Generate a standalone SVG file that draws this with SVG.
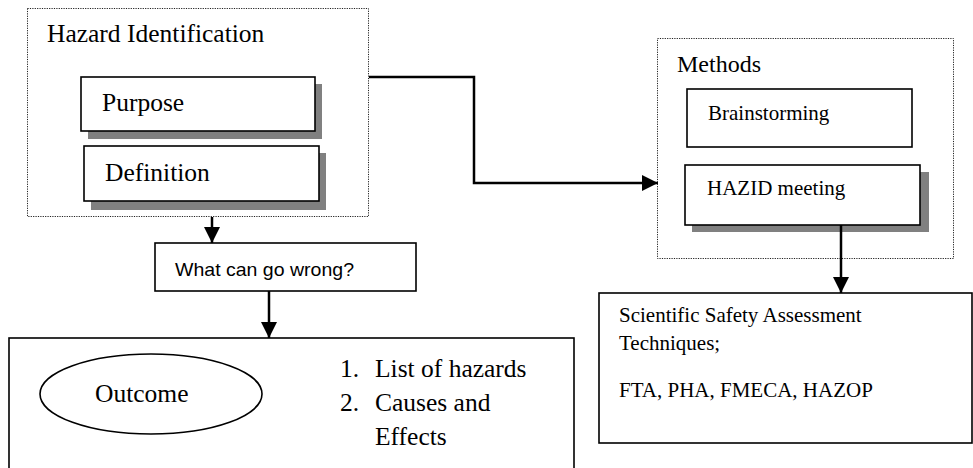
<svg xmlns="http://www.w3.org/2000/svg" width="973" height="468" viewBox="0 0 973 468">
  <style>
    .serif { font-family: "Liberation Serif", "Times New Roman", Times, serif; fill: #000; }
    .sans { font-family: "Liberation Sans", Arial, sans-serif; fill: #000; }
    .frame { fill: none; stroke: #222; stroke-width: 1; stroke-dasharray: 1.2 1.2; }
    .box { fill: #fff; stroke: #000; stroke-width: 1.6; }
    .shadow { fill: #808080; stroke: none; }
    .wire { fill: none; stroke: #000; stroke-width: 2.5; }
  </style>
  <defs>
    <marker id="head" viewBox="0 0 10 10" refX="10" refY="5" markerWidth="16" markerHeight="16" markerUnits="userSpaceOnUse" orient="auto">
      <path d="M0,0 L10,5 L0,10 Z" fill="#000"/>
    </marker>
  </defs>
  <rect width="973" height="468" fill="#fff"/>

  <!-- Hazard identification panel -->
  <g id="hazard-identification">
    <rect class="frame" x="27.5" y="8.5" width="341" height="208"/>
    <text class="serif" x="47" y="42" style="font-size:25.5px">Hazard Identification</text>
  </g>
  <g id="purpose">
    <rect class="shadow" x="88" y="84" width="234" height="55"/>
    <rect class="box" x="81" y="77" width="234" height="54"/>
    <text class="serif" x="102" y="111" style="font-size:25.5px">Purpose</text>
  </g>
  <g id="definition">
    <rect class="shadow" x="91" y="153" width="235" height="57"/>
    <rect class="box" x="84" y="146" width="235" height="55"/>
    <text class="serif" x="105" y="181" style="font-size:25.5px">Definition</text>
  </g>

  <!-- Methods panel -->
  <g id="methods">
    <rect class="frame" x="657.5" y="38.5" width="296" height="220"/>
    <text class="serif" x="677" y="72" style="font-size:24px">Methods</text>
  </g>
  <g id="brainstorming">
    <rect class="box" x="687" y="89" width="225" height="58"/>
    <text class="serif" x="708" y="120" style="font-size:21px">Brainstorming</text>
  </g>
  <g id="hazid-meeting">
    <rect class="shadow" x="692" y="172" width="237" height="60"/>
    <rect class="box" x="685" y="165" width="235" height="60"/>
    <text class="serif" x="707" y="195" style="font-size:21px">HAZID meeting</text>
  </g>

  <!-- Question box -->
  <g id="what-can-go-wrong">
    <rect class="box" x="155" y="243" width="261" height="48"/>
    <text class="sans" x="175" y="276" style="font-size:19px" textLength="179" lengthAdjust="spacingAndGlyphs">What can go wrong?</text>
  </g>

  <!-- Outcome panel -->
  <g id="outcome">
    <rect class="box" x="9" y="338" width="565" height="140"/>
    <ellipse cx="151" cy="394" rx="111" ry="40" fill="#fff" stroke="#000" stroke-width="1.6"/>
    <text class="serif" x="95" y="402" style="font-size:25.5px">Outcome</text>
    <text class="serif" style="font-size:25.5px">
      <tspan x="340" y="377">1.</tspan><tspan x="375" y="377">List of hazards</tspan>
      <tspan x="340" y="411">2.</tspan><tspan x="375" y="411">Causes and</tspan>
      <tspan x="375" y="445">Effects</tspan>
    </text>
  </g>

  <!-- Techniques panel -->
  <g id="techniques">
    <rect class="box" x="599" y="293" width="373" height="150"/>
    <text class="serif" x="619" y="322" style="font-size:21px">Scientific Safety Assessment</text>
    <text class="serif" x="619" y="350" style="font-size:21px">Techniques;</text>
    <text class="serif" x="619" y="397" style="font-size:21px">FTA, PHA, FMECA, HAZOP</text>
  </g>

  <!-- Connectors -->
  <g id="connectors">
    <polyline class="wire" points="369,77 474,77 474,183 658,183" marker-end="url(#head)"/>
    <line class="wire" x1="212" y1="217" x2="212" y2="243" marker-end="url(#head)"/>
    <line class="wire" x1="269" y1="291" x2="269" y2="338" marker-end="url(#head)"/>
    <line class="wire" x1="841" y1="225" x2="841" y2="293" marker-end="url(#head)"/>
  </g>
</svg>
